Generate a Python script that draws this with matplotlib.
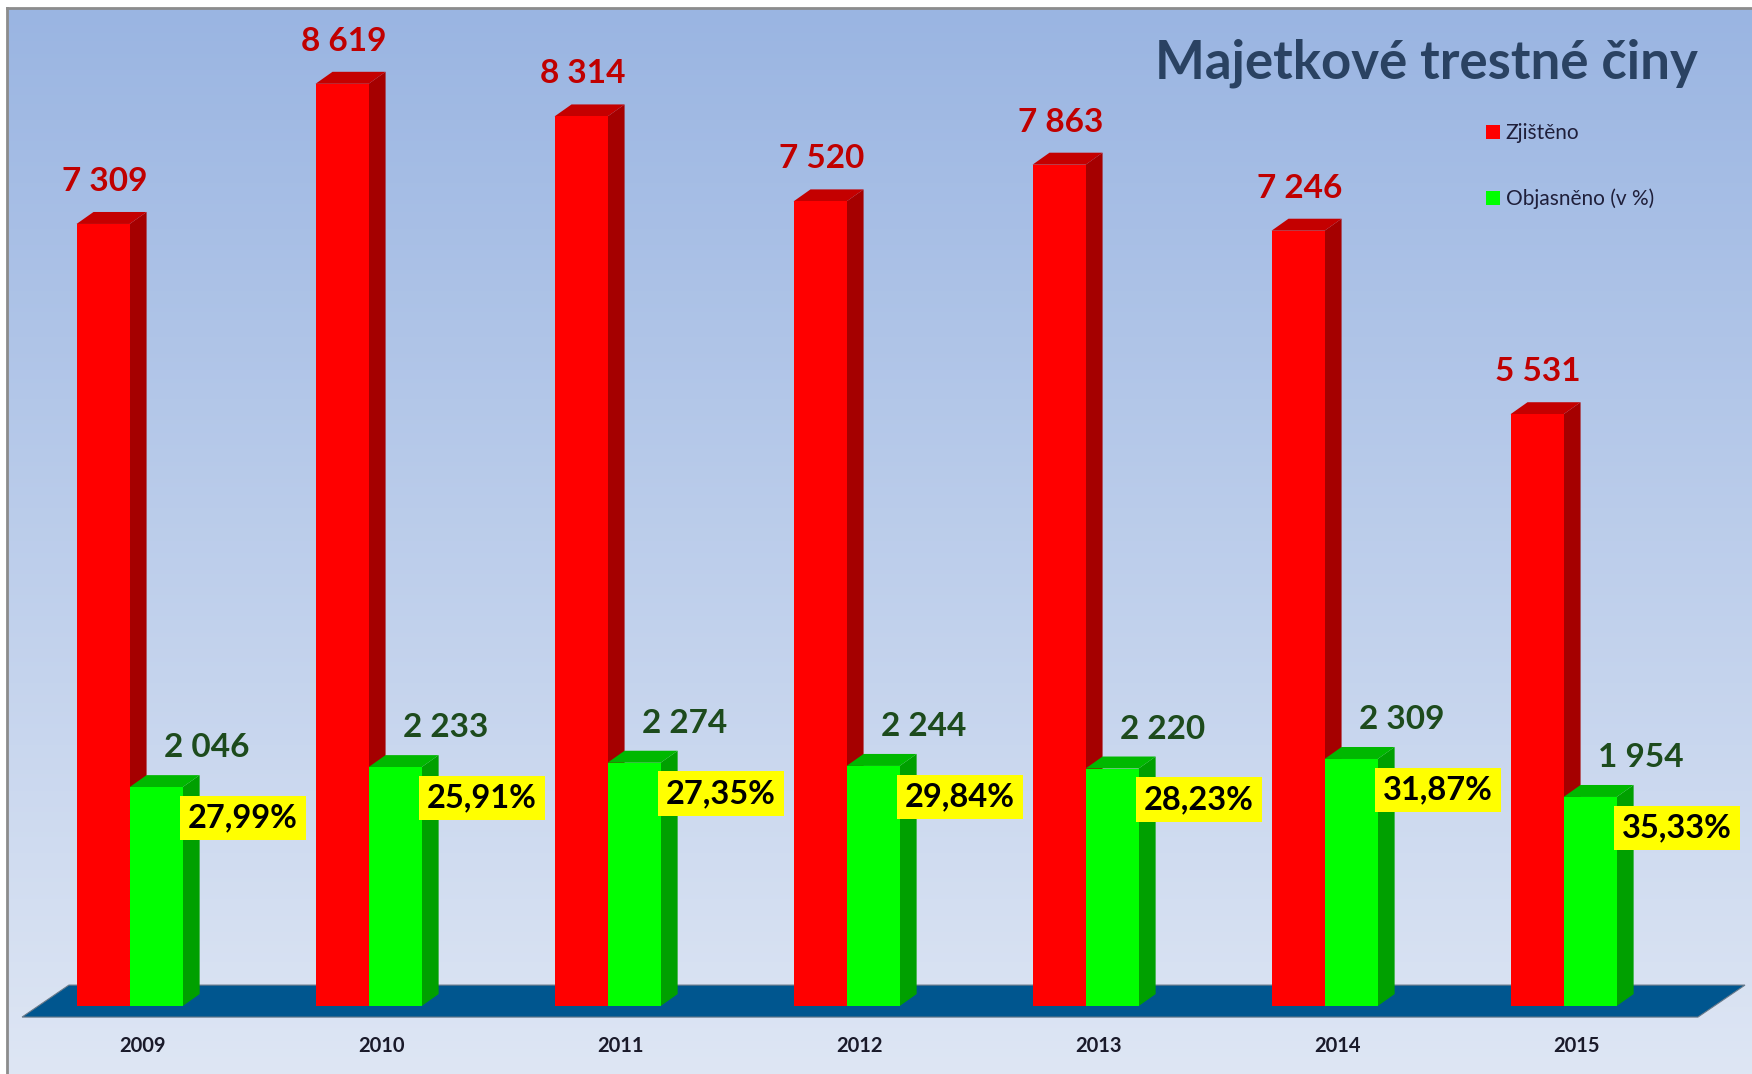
import numpy as np
import matplotlib.pyplot as plt
from matplotlib.patches import Polygon, Patch

# data
years = ["2009", "2010", "2011", "2012", "2013", "2014", "2015"]
zjisteno = [7309, 8619, 8314, 7520, 7863, 7246, 5531]
objasneno = [2046, 2233, 2274, 2244, 2220, 2309, 1954]
procenta = ["27,99%", "25,91%", "27,35%", "29,84%", "28,23%", "31,87%", "35,33%"]

W, H = 1752, 1074
fig = plt.figure(figsize=(W / 100, H / 100), dpi=100)
fig.patch.set_facecolor("white")

# background gradient + frame
bg = fig.add_axes([7 / W, 0, 1 - 7 / W, (H - 8) / H])
grad = np.linspace(0, 1, 256)[:, None]
top_c = np.array([154, 181, 226]) / 255
bot_c = np.array([222, 230, 244]) / 255
img = top_c[None, None, :] * (1 - grad[:, :, None]) + bot_c[None, None, :] * grad[:, :, None]
bg.imshow(img, aspect="auto", extent=[0, 1, 0, 1])
bg.set_xticks([])
bg.set_yticks([])
for s in ["right", "bottom"]:
    bg.spines[s].set_visible(False)
for s in ["left", "top"]:
    bg.spines[s].set_color("#8c8c8c")
    bg.spines[s].set_linewidth(2)

ax = fig.add_axes([0, 0, 1, 1])
ax.set_facecolor("none")
ax.axis("off")
ax.set_xlim(-0.5423, 6.7883)
ax.set_ylim(-635, 9402)

w = 0.222      # bar width
dx = 0.071     # depth offsets
dy = 112
idx = np.arange(len(years))

# floor
floor = Polygon([(-0.450, -103), (-0.254, 196), (6.759, 196), (6.562, -103)],
                closed=True, facecolor="#00568f", edgecolor="#6a7a8a", lw=0.8, zorder=1)
ax.add_patch(floor)


def bar3d(x0, v, side, topc, z):
    x1 = x0 + w
    ax.add_patch(Polygon([(x1, 0), (x1 + dx, dy), (x1 + dx, v + dy), (x1, v)],
                         closed=True, facecolor=side, edgecolor="none", zorder=z))
    ax.add_patch(Polygon([(x0, v), (x0 + dx, v + dy), (x1 + dx, v + dy), (x1, v)],
                         closed=True, facecolor=topc, edgecolor="none", zorder=z))


for i in idx:
    bar3d(i - w, zjisteno[i], "#a50000", "#c40000", 2)
ax.bar(idx - w, zjisteno, w, align="edge", color="#ff0000", zorder=3)
for i in idx:
    bar3d(i, objasneno[i], "#00a000", "#00b800", 4)
ax.bar(idx, objasneno, w, align="edge", color="#00ff00", zorder=5)

font = "Lato"
for i in idx:
    ax.text(i - w / 2 + 0.005, zjisteno[i] + 310, f"{zjisteno[i]:,}".replace(",", " "),
            ha="center", va="baseline", fontsize=24, fontweight="bold",
            color="#c00000", family=font, zorder=6)
    ax.text(i + 0.324, objasneno[i] + 280, f"{objasneno[i]:,}".replace(",", " "),
            ha="center", va="baseline", fontsize=24, fontweight="bold",
            color="#1d4b1d", family=font, zorder=6)
    ax.text(i + 0.244, objasneno[i] - 290, procenta[i],
            ha="left", va="center", fontsize=23.5, fontweight="bold",
            color="black", family=font, zorder=7,
            bbox=dict(boxstyle="square,pad=0.24", facecolor="#ffff00", edgecolor="none"))
    ax.text(i + 0.056, -374, years[i], ha="center", va="center",
            fontsize=14.5, fontweight="bold", color="#1a1a2a", family=font)

ax.text(6.563, 8673, "Majetkové trestné činy", ha="right", va="baseline",
        fontsize=38, fontweight="bold", color="#2a4262", family=font)

handles = [Patch(facecolor="#ff0000", edgecolor="none", label="Zjištěno"),
           Patch(facecolor="#00ff00", edgecolor="none", label="Objasněno (v %)")]
fig.legend(handles=handles, loc="upper left", bbox_to_anchor=(1486 / W, 1 - 123 / H),
           frameon=False, handlelength=0.65, handleheight=0.65,
           handletextpad=0.3, labelspacing=2.2, borderpad=0, borderaxespad=0,
           prop={"family": font, "size": 15}, labelcolor="#1f1f3a")

fig.savefig("out.png", dpi=100)
